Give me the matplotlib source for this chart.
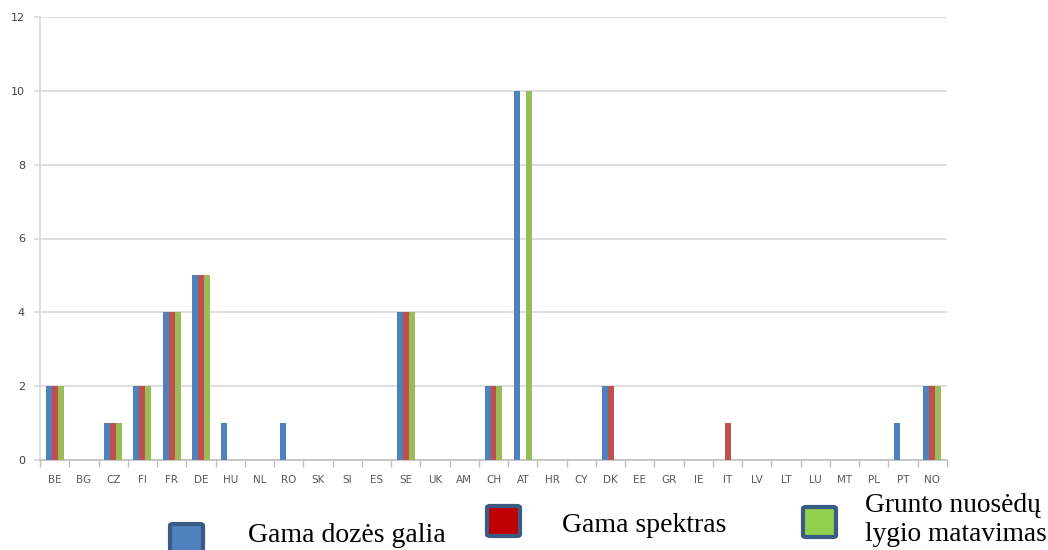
import matplotlib
matplotlib.use("Agg")
import matplotlib.pyplot as plt
import numpy as np
from matplotlib.patches import FancyBboxPatch

countries = ["BE", "BG", "CZ", "FI", "FR", "DE", "HU", "NL", "RO", "SK", "SI", "ES",
             "SE", "UK", "AM", "CH", "AT", "HR", "CY", "DK", "EE", "GR", "IE", "IT",
             "LV", "LT", "LU", "MT", "PL", "PT", "NO"]
dose_rate = [2, 0, 1, 2, 4, 5, 1, 0, 1, 0, 0, 0, 4, 0, 0, 2, 10, 0, 0, 2, 0, 0, 0, 0,
             0, 0, 0, 0, 0, 1, 2]
gamma_spectrum = [2, 0, 1, 2, 4, 5, 0, 0, 0, 0, 0, 0, 4, 0, 0, 2, 0, 0, 0, 2, 0, 0, 0, 1,
                  0, 0, 0, 0, 0, 0, 2]
deposition = [2, 0, 1, 2, 4, 5, 0, 0, 0, 0, 0, 0, 4, 0, 0, 2, 10, 0, 0, 0, 0, 0, 0, 0,
              0, 0, 0, 0, 0, 0, 2]
y_ticks = [0, 2, 4, 6, 8, 10, 12]
legend_labels = ["Gama dozės galia", "Gama spektras", "Grunto nuosėdų\nlygio matavimas"]

bar_colors = ["#4F81BD", "#C0504D", "#9BBB59"]
marker_colors = ["#4F81BD", "#C00000", "#92D050"]

W, H = 1048, 550
fig = plt.figure(figsize=(W / 100, H / 100), dpi=100)
ax = fig.add_axes([40 / W, 1 - 460 / H, (947 - 40) / W, (460 - 17) / H])

x = np.arange(len(countries))
bw = 0.205
for i, (vals, c) in enumerate(zip([dose_rate, gamma_spectrum, deposition], bar_colors)):
    ax.bar(x + (i - 1) * bw, vals, width=bw, color=c, zorder=3)

ax.set_xlim(-0.5, len(countries) - 0.5)
ax.set_ylim(0, 12)
ax.set_yticks(y_ticks)
ax.set_yticklabels([str(v) for v in y_ticks])
ax.yaxis.grid(True, color="#D9D9D9", linewidth=1.2, zorder=0)
ax.set_axisbelow(True)

ax.set_xticks(x)
ax.set_xticklabels(countries)
ax.set_xticks(np.arange(-0.5, len(countries)), minor=True)
ax.tick_params(axis="x", which="major", length=0, pad=11, labelsize=7.5, labelcolor="#595959")
ax.tick_params(axis="x", which="minor", length=5, color="#BFBFBF", width=1)
ax.tick_params(axis="y", length=4.3, color="#D9D9D9", width=1.2, pad=6.5,
               labelsize=8, labelcolor="#404040")

for s in ["top", "right"]:
    ax.spines[s].set_visible(False)
ax.spines["left"].set_color("#D9D9D9")
ax.spines["left"].set_linewidth(1.2)
ax.spines["bottom"].set_color("#BFBFBF")
ax.spines["bottom"].set_linewidth(1.2)

# legend drawn in figure pixel coordinates
serif = ["Liberation Serif", "DejaVu Serif"]
marker_boxes = [(170, 524), (487, 506), (803, 507)]
text_pos = [(248, 536, 20), (562, 525, 20), (865, 520, 19.7)]
for (mx, my), mc in zip(marker_boxes, marker_colors):
    w, h = 33, 30
    patch = FancyBboxPatch((mx / W, 1 - (my + h) / H), w / W, h / H,
                           boxstyle="round,pad=0,rounding_size=0.003",
                           transform=fig.transFigure, facecolor=mc,
                           edgecolor="#3B5A84", linewidth=3, clip_on=False)
    fig.patches.append(patch)
for (tx, ty, fs), label in zip(text_pos, legend_labels):
    fig.text(tx / W, 1 - ty / H, label, family=serif, fontsize=fs,
             ha="left", va="center", color="black", linespacing=1.2)

fig.savefig("out.png", dpi=100)
